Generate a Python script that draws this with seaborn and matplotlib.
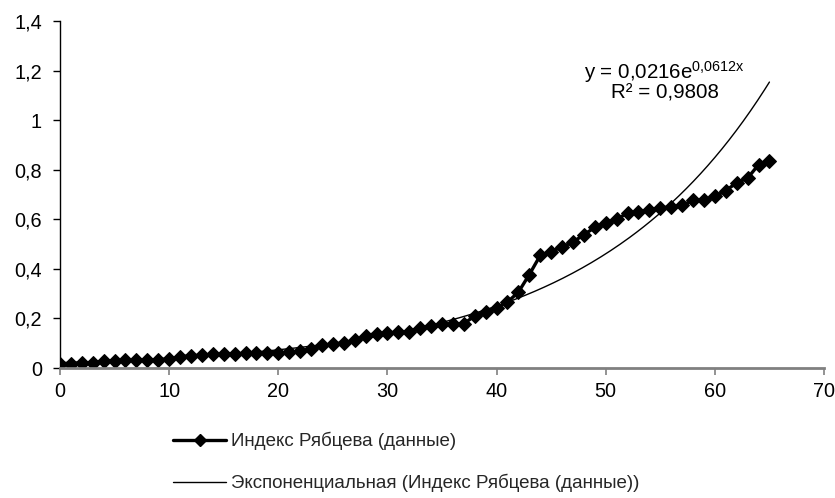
import numpy as np
import pandas as pd
import matplotlib
matplotlib.use("Agg")
import matplotlib.pyplot as plt
from matplotlib.ticker import FuncFormatter, MultipleLocator
from matplotlib.lines import Line2D
import seaborn as sns

# ---- data ----
x_vals = list(range(0, 66))
index_vals = [0.015, 0.015, 0.021, 0.022, 0.028, 0.029, 0.031, 0.031, 0.032, 0.034,
              0.035, 0.045, 0.050, 0.051, 0.055, 0.057, 0.057, 0.059, 0.062, 0.062,
              0.062, 0.063, 0.068, 0.077, 0.091, 0.095, 0.101, 0.112, 0.130, 0.139,
              0.140, 0.146, 0.147, 0.163, 0.168, 0.176, 0.178, 0.179, 0.210, 0.224,
              0.242, 0.266, 0.306, 0.377, 0.454, 0.470, 0.488, 0.508, 0.538, 0.567,
              0.586, 0.600, 0.625, 0.628, 0.639, 0.647, 0.649, 0.656, 0.676, 0.679,
              0.692, 0.716, 0.747, 0.766, 0.820, 0.837]
trend_a = 0.0216
trend_b = 0.0612
series_label = "Индекс Рябцева (данные)"
trend_label = "Экспоненциальная (Индекс Рябцева (данные))"
eq_line1 = r"y = 0,0216e$^{0{,}0612x}$"
eq_line2 = "R² = 0,9808"

sns.set_theme(style="white")
plt.rcParams['font.family'] = ['Liberation Sans', 'DejaVu Sans']
plt.rcParams['mathtext.default'] = 'regular'
plt.rcParams['mathtext.fontset'] = 'custom'
plt.rcParams['mathtext.rm'] = 'Liberation Sans'
plt.rcParams['mathtext.it'] = 'Liberation Sans'

FS_TICK = 14.3
FS_EQ = 14.8
FS_LEG = 13.5

df = pd.DataFrame({"x": x_vals, "y": index_vals})
trend_x = np.linspace(min(x_vals), max(x_vals), 300)
trend_df = pd.DataFrame({"x": trend_x, "y": trend_a * np.exp(trend_b * trend_x)})

fig = plt.figure(figsize=(8.35, 4.98), dpi=100)
ax = fig.add_axes([60/835, 1 - 368/498, (824-60)/835, (368-21)/498])

sns.lineplot(data=df, x="x", y="y", ax=ax, color="black", linewidth=2.4,
             marker="D", markersize=7.5, markeredgecolor="black", markerfacecolor="black")
sns.lineplot(data=trend_df, x="x", y="y", ax=ax, color="black", linewidth=1.0)

ax.set_xlim(0, 70)
ax.set_ylim(0, 1.4)
ax.xaxis.set_major_locator(MultipleLocator(10))
ax.yaxis.set_major_locator(MultipleLocator(0.2))
fmt = FuncFormatter(lambda v, p: ("%g" % round(v, 2)).replace(".", ","))
ax.xaxis.set_major_formatter(fmt)
ax.yaxis.set_major_formatter(fmt)
ax.set_xlabel("")
ax.set_ylabel("")

for s in ["top", "right"]:
    ax.spines[s].set_visible(False)
ax.spines["left"].set_color("black")
ax.spines["left"].set_linewidth(1.0)
ax.spines["bottom"].set_color("#808080")
ax.spines["bottom"].set_linewidth(2.0)
ax.tick_params(axis="y", direction="out", length=5, width=1, color="black",
               labelsize=FS_TICK, labelcolor="black", pad=8, left=True)
ax.tick_params(axis="x", direction="out", length=5, width=1.2, color="#808080",
               labelsize=FS_TICK, labelcolor="black", pad=5, bottom=True)

ax.text(55.4, 1.195, eq_line1, ha="center", va="center", fontsize=FS_EQ, color="black")
ax.text(55.4, 1.109, eq_line2, ha="center", va="center", fontsize=FS_EQ, color="black")

handles = [
    Line2D([], [], color="black", linewidth=2.4, marker="D", markersize=7.5),
    Line2D([], [], color="black", linewidth=1.0),
]
fig.legend(handles, [series_label, trend_label], loc="upper left",
           bbox_to_anchor=(173/835, 1 - 432/498), frameon=False,
           fontsize=FS_LEG, handlelength=2.85, handletextpad=0.25,
           labelspacing=1.25, borderpad=0, borderaxespad=0, markerscale=0.85)

fig.savefig("out.png", dpi=100)
